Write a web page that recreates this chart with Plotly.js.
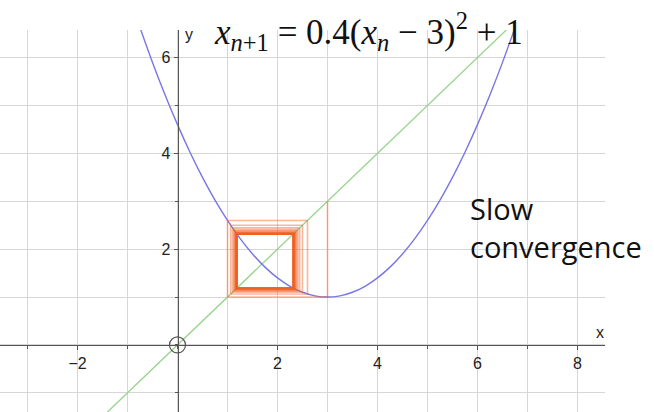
<!DOCTYPE html>
<html>
<head>
<meta charset="utf-8">
<script src="https://cdn.plot.ly/plotly-3.0.1.min.js"></script>
<style>
  html, body { margin: 0; padding: 0; background: #fff; }
  #chart { width: 654px; height: 412px; }
</style>
</head>
<body>
<div id="chart"></div>
<script>
// Map x -> 0.4(x - 3)^2 + 1, sampled along the visible window
const curveX = [-0.74, -0.5, -0.25, 0, 0.25, 0.5, 0.75, 1, 1.25, 1.5, 1.75, 2, 2.25, 2.5, 2.75, 3,
                3.25, 3.5, 3.75, 4, 4.25, 4.5, 4.75, 5, 5.25, 5.5, 5.75, 6, 6.25, 6.5, 6.74];
const curveY = [6.595, 5.9, 5.225, 4.6, 4.025, 3.5, 3.025, 2.6, 2.225, 1.9, 1.625, 1.4, 1.225, 1.1, 1.025, 1,
                1.025, 1.1, 1.225, 1.4, 1.625, 1.9, 2.225, 2.6, 3.025, 3.5, 4.025, 4.6, 5.225, 5.9, 6.595];

// Diagonal y = x
const diagX = [-1.40, 6.58];
const diagY = [-1.40, 6.58];

// Iterates x0, x1, x2, ... starting from x0 = 3 (slowly settling on the 2-cycle)
const iterates = [3, 1, 2.6, 1.064, 2.499, 1.1003, 2.4435, 1.1239, 2.408, 1.1402, 2.3835, 1.152,
                  2.366, 1.1608, 2.3531, 1.1674, 2.3434, 1.1725, 2.336, 1.1764, 2.3302, 1.1794,
                  2.3258, 1.1818, 2.3223, 1.1837, 2.3196, 1.1852, 2.3174, 1.1864, 2.3157, 1.1873,
                  2.3143, 1.1881, 2.3133, 1.1886, 2.3124, 1.1891, 2.3117, 1.1895, 2.3112];

// Axis ticks
const xTickVals = [-2, 2, 4, 6, 8];
const xTickText = ['\u22122', '2', '4', '6', '8'];
const yTickVals = [2, 4, 6];
const yTickText = ['2', '4', '6'];

const traces = [];

traces.push({
  x: diagX, y: diagY, mode: 'lines', type: 'scatter',
  line: { color: 'rgb(150,212,140)', width: 1.3 },
  hoverinfo: 'skip', showlegend: false
});

traces.push({
  x: curveX, y: curveY, mode: 'lines', type: 'scatter',
  line: { color: 'rgb(118,118,232)', width: 1.4, shape: 'spline', smoothing: 1 },
  hoverinfo: 'skip', showlegend: false
});

// Cobweb: one trace per step so overlapping strokes build up colour
for (let n = 0; n < iterates.length - 1; n++) {
  const a = iterates[n], b = iterates[n + 1];
  traces.push({
    x: [a, a, b], y: [a, b, b], mode: 'lines', type: 'scatter',
    line: { color: 'rgba(242,95,35,0.45)', width: 1.6 },
    hoverinfo: 'skip', showlegend: false
  });
}

// Open circle at the origin
traces.push({
  x: [0], y: [0], mode: 'markers', type: 'scatter',
  marker: { symbol: 'circle-open', size: 16, color: '#555', line: { color: '#555', width: 1.2 } },
  hoverinfo: 'skip', showlegend: false, cliponaxis: false
});

const xRange = [-3.55, 8.55];
const yRange = [-1.40, 6.576];
const xZeroPos = (0 - xRange[0]) / (xRange[1] - xRange[0]);
const yZeroPos = (0 - yRange[0]) / (yRange[1] - yRange[0]);

const tickFont = { family: 'Liberation Sans, Arial, sans-serif', size: 16, color: '#222' };

const layout = {
  width: 654, height: 412,
  margin: { l: 0, r: 49, t: 30, b: 0 },
  paper_bgcolor: '#fff', plot_bgcolor: '#fff',
  xaxis: {
    range: xRange, anchor: 'free', position: yZeroPos,
    tickmode: 'array', tickvals: xTickVals, ticktext: xTickText,
    ticks: 'outside', ticklen: 4, tickcolor: '#555', tickwidth: 1,
    tickfont: tickFont,
    showline: true, linecolor: '#555', linewidth: 1.3,
    showgrid: true, gridcolor: '#d6d6d6', gridwidth: 1,
    minor: { dtick: 1, tick0: 0, showgrid: true, gridcolor: '#d6d6d6', gridwidth: 1,
             ticks: 'outside', ticklen: 3, tickcolor: '#555' },
    zeroline: false, fixedrange: true
  },
  yaxis: {
    range: yRange, anchor: 'free', position: xZeroPos,
    tickmode: 'array', tickvals: yTickVals, ticktext: yTickText,
    ticks: 'outside', ticklen: 4, tickcolor: '#555', tickwidth: 1,
    tickfont: tickFont,
    showline: true, linecolor: '#555', linewidth: 1.3,
    showgrid: true, gridcolor: '#d6d6d6', gridwidth: 1,
    minor: { dtick: 1, tick0: 0, showgrid: true, gridcolor: '#d6d6d6', gridwidth: 1,
             ticks: 'outside', ticklen: 3, tickcolor: '#555' },
    zeroline: false, fixedrange: true
  },
  annotations: [
    {
      xref: 'x', yref: 'y', x: 0.68, y: 6.54, xanchor: 'left', yanchor: 'middle',
      text: '<i>x</i><sub><i>n</i>+1</sub> = 0.4(<i>x</i><sub><i>n</i></sub> \u2212 3)<sup>2</sup> + 1',
      showarrow: false,
      font: { family: 'Liberation Serif, Times New Roman, serif', size: 35, color: '#111' }
    },
    {
      xref: 'x', yref: 'y', x: 5.8, y: 2.45, xanchor: 'left', yanchor: 'middle', align: 'left',
      text: 'Slow<br>convergence',
      showarrow: false,
      font: { family: 'Open Sans, Noto Sans, sans-serif', size: 29, color: '#111' }
    },
    {
      xref: 'x', yref: 'y', x: 8.45, y: 0.27, xanchor: 'center', yanchor: 'middle',
      text: 'x', showarrow: false,
      font: { family: 'Liberation Sans, Arial, sans-serif', size: 16, color: '#222' }
    },
    {
      xref: 'x', yref: 'y', x: 0.23, y: 6.49, xanchor: 'center', yanchor: 'middle',
      text: 'y', showarrow: false,
      font: { family: 'Liberation Sans, Arial, sans-serif', size: 16, color: '#222' }
    }
  ],
  showlegend: false
};

Plotly.newPlot('chart', traces, layout, { displayModeBar: false, staticPlot: true });
</script>
</body>
</html>
